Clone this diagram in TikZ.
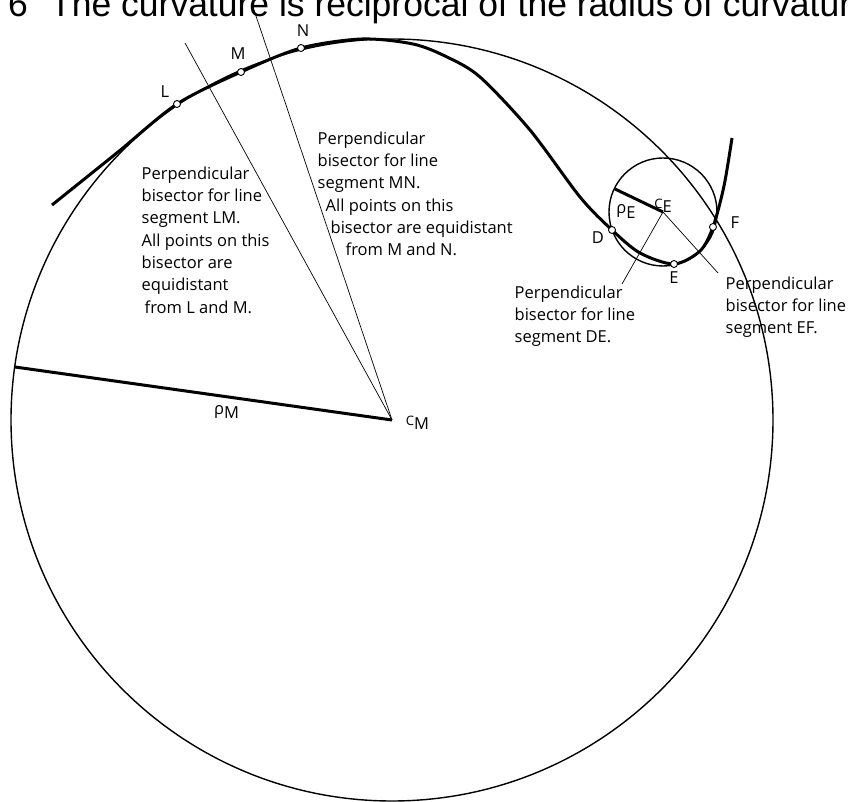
\documentclass[tikz,border=0pt]{standalone}
\usepackage{fontspec}
\setmainfont{Open Sans}
\newfontfamily\titlefont{Liberation Sans}
\newcommand{\lowsub}[3]{#1\raisebox{-#3}{#2}}
\newcommand{\smallc}{{\fontsize{13}{13}\selectfont C}}
\begin{document}
\begin{tikzpicture}[x=1pt, y=-1pt,
  p/.style={circle, draw, fill=white, inner sep=0pt, minimum size=7pt, line width=0.9pt},
  lbl/.style={inner sep=0pt, font=\fontsize{16.5}{22.3}\selectfont},
  txt/.style={lbl, align=left, anchor=north west},
  ttlfont/.style={anchor=base west, inner sep=0pt, font=\titlefont\fontsize{35.5}{35.5}\selectfont},
  big/.style={line width=1.4pt},
  thk/.style={line width=3pt},
  bis/.style={line width=0.7pt}
]
\useasboundingbox (0,0) rectangle (849,802);
\clip (0,0) rectangle (849,802);
% title, cut off at the top
\node[ttlfont] (ttl6) at (8,17) {6};
\node[ttlfont] (ttl) at (50,17) {The curvature is reciprocal of the radius of curvature};
% centres and points
\coordinate (CM) at (392,420);
\coordinate (CE) at (663,212);
\coordinate (L) at (177,104);
\coordinate (M) at (241,72);
\coordinate (N) at (301,48);
\coordinate (D) at (612,230);
\coordinate (E) at (674,264);
\coordinate (F) at (713,227);
\coordinate (RM) at (15,367);
\coordinate (RE) at (615,189);
\coordinate (BLM) at (185,43);
\coordinate (BMN) at (254,10);
\coordinate (BDE) at (622,284);
\coordinate (BEF) at (718,273);
% osculating circles
\draw[big] (CM) circle[radius=381];
\draw[big] (CE) circle[radius=54];
% bisectors
\draw[bis] (CM) -- (BLM);
\draw[bis] (CM) -- (BMN);
\draw[bis] (CE) -- (BDE);
\draw[bis] (CE) -- (BEF);
% radii
\draw[thk] (CM) -- (RM);
\draw[thk] (CE) -- (RE);
% the curve
\draw[thk] plot[smooth, tension=0.5] coordinates {(52,205) (118,152) (L) (M) (N) (362,39) (413,44) (447,57) (480,77) (530,130) (580,197) (D) (640,253) (E) (700,251) (F) (724,186) (732,138)};
\foreach \q in {L,M,N,D,E,F}
  \node[p] at (\q) {};
% labels
\node[lbl] (lL) at (165,92) {L};
\node[lbl] (lM) at (238,54) {M};
\node[lbl] (lN) at (303,31) {N};
\node[lbl] (lD) at (598,238) {D};
\node[lbl] (lE) at (674,278) {E};
\node[lbl] (lF) at (735,223) {F};
\node[lbl] (lrM) at (226.5,412) {\lowsub{ρ}{M}{0.3em}};
\node[lbl] (lCM) at (417.5,423) {\lowsub{\smallc}{M}{0.25em}};
\node[lbl] (lrE) at (626,211.5) {\lowsub{ρ}{E}{0.3em}};
\node[lbl] (lCE) at (663,206) {\lowsub{\smallc}{E}{0.25em}};
\node[txt] (tLM) at (141.5,166.5) {Perpendicular\\bisector for line\\segment LM.\\All points on this\\bisector are\\equidistant\\\hspace{3pt}from L and M.};
\node[txt] (tMN) at (317.5,131.5) {Perpendicular\\bisector for line\\segment MN.\\\hspace{8pt}All points on this\\\hspace{13pt}bisector are equidistant\\\hspace{28pt}from M and N.};
\node[txt] (tDE) at (514.5,285.5) {Perpendicular\\bisector for line\\segment DE.};
\node[txt] (tEF) at (725.5,276.5) {Perpendicular\\bisector for line\\segment EF.};
\end{tikzpicture}
\end{document}
